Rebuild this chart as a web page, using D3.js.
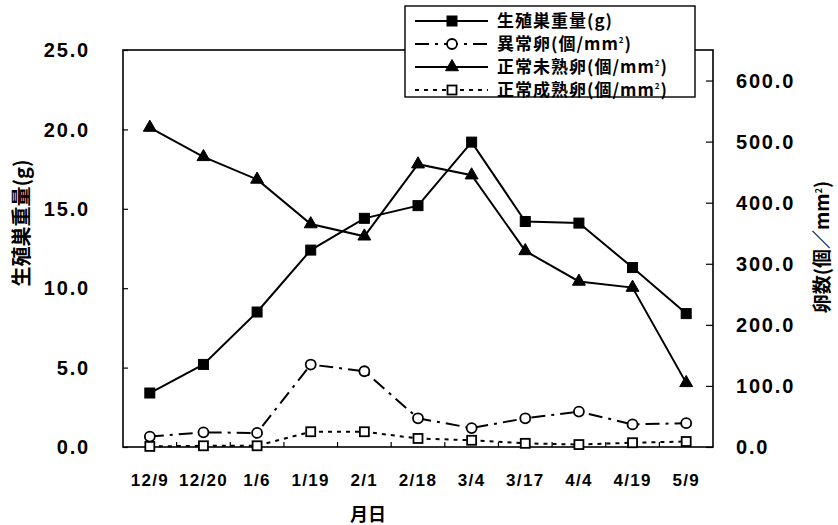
<!DOCTYPE html>
<html>
<head>
<meta charset="utf-8">
<script src="https://cdn.jsdelivr.net/npm/d3@7"></script>
<style>
  html, body { margin: 0; padding: 0; background: #fff; }
  svg { display: block; }
  .tick-label { font-family: "Liberation Sans", Arial, sans-serif; font-weight: bold; fill: #000; }
  .jp { font-family: "Noto Sans CJK JP", sans-serif; font-weight: bold; fill: #000; }
</style>
</head>
<body>
<svg id="chart" width="838" height="525"></svg>
<script>
// Sampling dates
const dates = ["12/9", "12/20", "1/6", "1/19", "2/1", "2/18", "3/4", "3/17", "4/4", "4/19", "5/9"];

// Gonad weight (g) — left axis
const gonadWeight = [3.4, 5.2, 8.5, 12.4, 14.4, 15.2, 19.2, 14.2, 14.1, 11.3, 8.4];
// Egg counts (per mm²) — right axis
const abnormalEggs = [17, 24, 23, 135, 124, 47, 31, 47, 58, 37, 39];
const immatureEggs = [523, 475, 438, 365, 345, 463, 445, 321, 271, 261, 105];
const matureEggs = [1, 2, 2, 25, 25, 14, 11, 6, 4, 7, 9];

const leftTicks = [0, 5, 10, 15, 20, 25];
const rightTicks = [0, 100, 200, 300, 400, 500, 600];

// Legend labels: [text before the superscript, superscript, closing text]
const legendLabels = [
  ["生殖巣重量(g)", null, null],
  ["異常卵(個/mm", "2", ")"],
  ["正常未熟卵(個/mm", "2", ")"],
  ["正常成熟卵(個/mm", "2", ")"]
];

const svg = d3.select("#chart");
const plot = { left: 123, right: 713, top: 50, bottom: 447 };

const x = d3.scaleBand().domain(dates).range([plot.left, plot.right]);
const yL = d3.scaleLinear().domain([0, 25]).range([plot.bottom, plot.top]);
const yR = d3.scaleLinear().domain([0, 650]).range([plot.bottom, plot.top]);
const cx = d => x(d) + x.bandwidth() / 2;

// Plot frame
svg.append("rect")
  .attr("x", plot.left).attr("y", plot.top)
  .attr("width", plot.right - plot.left).attr("height", plot.bottom - plot.top)
  .attr("fill", "none").attr("stroke", "#000").attr("stroke-width", 1.6);

// Left axis (ticks point inward)
const leftAxis = d3.axisRight(yL).tickValues(leftTicks).tickSize(5).tickFormat("");
svg.append("g").attr("transform", `translate(${plot.left},0)`).call(leftAxis)
  .call(g => g.select(".domain").remove())
  .call(g => g.selectAll("line").attr("stroke", "#000").attr("stroke-width", 1.2));
svg.append("g").selectAll("text").data(leftTicks).join("text")
  .attr("class", "tick-label")
  .attr("x", 90).attr("y", d => yL(d)).attr("dy", "0.36em")
  .attr("text-anchor", "end")
  .attr("font-size", 20).attr("letter-spacing", 1.8)
  .text(d => d.toFixed(1));

// Right axis (ticks point inward)
const rightAxis = d3.axisLeft(yR).tickValues(rightTicks).tickSize(7).tickFormat("");
svg.append("g").attr("transform", `translate(${plot.right},0)`).call(rightAxis)
  .call(g => g.select(".domain").remove())
  .call(g => g.selectAll("line").attr("stroke", "#000").attr("stroke-width", 1.2));
svg.append("g").selectAll("text").data(rightTicks).join("text")
  .attr("class", "tick-label")
  .attr("x", 736).attr("y", d => yR(d)).attr("dy", "0.36em")
  .attr("text-anchor", "start")
  .attr("font-size", 20).attr("letter-spacing", 1.8)
  .text(d => d.toFixed(1));

// Category boundary ticks on the x axis
svg.append("g").selectAll("line").data(dates.slice(1)).join("line")
  .attr("x1", d => x(d)).attr("x2", d => x(d))
  .attr("y1", plot.bottom).attr("y2", plot.bottom - 5)
  .attr("stroke", "#000").attr("stroke-width", 1.2);

// X tick labels
svg.append("g").selectAll("text").data(dates).join("text")
  .attr("class", "tick-label")
  .attr("x", d => cx(d)).attr("y", 486)
  .attr("text-anchor", "middle")
  .attr("font-size", 17).attr("letter-spacing", 1.3)
  .text(d => d);

// Axis titles
svg.append("text").attr("class", "jp")
  .attr("x", 368).attr("y", 515).attr("dy", "0.35em")
  .attr("text-anchor", "middle").attr("font-size", 18)
  .text("月日");
svg.append("text").attr("class", "jp")
  .attr("transform", "translate(22,223) rotate(-90)")
  .attr("dy", "0.35em").attr("text-anchor", "middle").attr("font-size", 20)
  .text("生殖巣重量(g)");
const rTitle = svg.append("text").attr("class", "jp")
  .attr("transform", "translate(822,247) rotate(-90)")
  .attr("y", 7).attr("text-anchor", "middle").attr("font-size", 19);
rTitle.append("tspan").text("卵数(個／mm");
rTitle.append("tspan").attr("font-size", 9).attr("dy", -7).text("2");
rTitle.append("tspan").attr("dy", 7).text(")");

// Series definitions
const series = [
  { values: gonadWeight, y: yL, dash: null, marker: "square", filled: true },
  { values: abnormalEggs, y: yR, dash: "14,6,3,6", marker: "circle", filled: false },
  { values: immatureEggs, y: yR, dash: null, marker: "triangle", filled: true },
  { values: matureEggs, y: yR, dash: "4,5", marker: "square", filled: false }
];

function drawMarker(g, kind, filled, size) {
  const fill = filled ? "#000" : "#fff";
  if (kind === "square") {
    const s = size;
    g.append("rect").attr("x", -s / 2).attr("y", -s / 2).attr("width", s).attr("height", s)
      .attr("fill", fill).attr("stroke", "#000").attr("stroke-width", filled ? 1 : 1.8);
  } else if (kind === "circle") {
    g.append("circle").attr("r", size / 2)
      .attr("fill", fill).attr("stroke", "#000").attr("stroke-width", 1.8);
  } else {
    g.append("path").attr("d", d3.symbol(d3.symbolTriangle, size)())
      .attr("fill", fill).attr("stroke", "#000").attr("stroke-width", 1);
  }
}
const markerSize = { square: 10, circle: 10, triangle: 72 };

// Lines and markers
series.forEach(s => {
  const line = d3.line().x((d, i) => cx(dates[i])).y(d => s.y(d));
  svg.append("path").datum(s.values)
    .attr("d", line)
    .attr("fill", "none").attr("stroke", "#000").attr("stroke-width", 2)
    .attr("stroke-dasharray", s.dash);
});
series.forEach(s => {
  const size = s.marker === "square" && !s.filled ? 9 : markerSize[s.marker];
  svg.append("g").selectAll("g").data(s.values).join("g")
    .attr("transform", (d, i) => `translate(${cx(dates[i])},${s.y(d)})`)
    .each(function () { drawMarker(d3.select(this), s.marker, s.filled, size); });
});

// Legend
const legend = svg.append("g");
legend.append("rect")
  .attr("x", 405).attr("y", 6).attr("width", 290).attr("height", 91)
  .attr("fill", "#fff").attr("stroke", "#000").attr("stroke-width", 1.4);
const rowY = [21, 44, 67, 90];
series.forEach((s, i) => {
  legend.append("line")
    .attr("x1", 415).attr("x2", 488).attr("y1", rowY[i]).attr("y2", rowY[i])
    .attr("stroke", "#000").attr("stroke-width", 2)
    .attr("stroke-dasharray", s.dash);
  const g = legend.append("g").attr("transform", `translate(452,${rowY[i]})`);
  const size = s.marker === "square" && !s.filled ? 9 : markerSize[s.marker];
  drawMarker(g, s.marker, s.filled, size);
  const [main, sup, close] = legendLabels[i];
  const t = legend.append("text").attr("class", "jp")
    .attr("x", 497).attr("y", rowY[i] + 6)
    .attr("font-size", 17).attr("letter-spacing", 1);
  t.append("tspan").text(main);
  if (sup) {
    t.append("tspan").attr("font-size", 8).attr("dy", -7).text(sup);
    t.append("tspan").attr("dy", 7).text(close);
  }
});
</script>
</body>
</html>
